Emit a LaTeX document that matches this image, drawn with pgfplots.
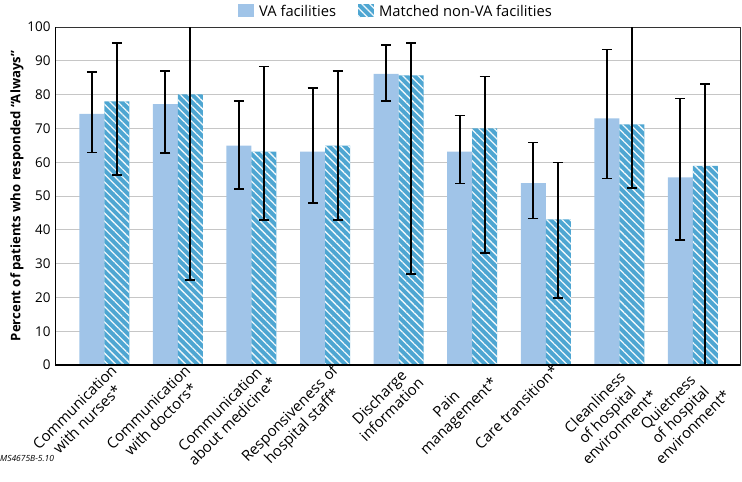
\documentclass[border=0pt]{standalone}
\usepackage{pgfplots}
\pgfplotsset{compat=1.18}
\usepackage{pgfplotstable}
\usepackage{fontspec}
\setmainfont{Open Sans}
\usetikzlibrary{patterns.meta}
\definecolor{vablue}{RGB}{160,196,232}
\definecolor{nvblue}{RGB}{78,166,210}

\pgfplotstableread{
x y ep em
0 74.3 12.4 11.4
1 77.2 9.8 14.4
2 64.9 13.2 12.9
3 63.1 18.8 15.1
4 86.1 8.6 8.0
5 63.1 10.7 9.4
6 53.8 12.0 10.4
7 73.0 20.4 17.8
8 55.5 23.4 18.5
}\vadata
\pgfplotstableread{
x y ep em
0 78.0 17.2 21.8
1 80.1 25.0 55.0
2 63.1 25.2 20.2
3 64.9 22.1 22.0
4 85.7 9.5 58.8
5 70.0 15.3 36.8
6 43.1 16.8 23.2
7 71.2 34.0 18.9
8 58.9 24.2 61.0
}\nvdata

\begin{document}
\begin{tikzpicture}[x=1bp,y=1bp]
\begin{axis}[
  at={(55bp,-365bp)}, anchor=south west,
  scale only axis, width=685bp, height=338bp,
  ybar=0pt, bar width=25bp,
  xmin=-0.67, xmax=8.64,
  ymin=0, ymax=100,
  ytick={0,10,...,100},
  xtick={0,...,8},
  xticklabels={{Communication\\with nurses*},{Communication\\with doctors*},{Communication\\about medicine*},{Responsiveness of\\hospital staff*},{Discharge\\information},{Pain\\management*},{Care transition*},{Cleanliness\\of hospital\\environment*},{Quietness\\of hospital\\environment*}},
  xticklabel style={rotate=45, anchor=north east, align=center, font=\fontsize{15}{17.5}\selectfont, inner sep=1bp, xshift=6bp, yshift=-2bp},
  yticklabel style={font=\fontsize{13.5}{15}\selectfont, xshift=-1bp},
  /pgf/number format/assume math mode=true,
  major tick length=0pt,
  ymajorgrids, grid style={gray!45, line width=0.8bp},
  axis line style={draw=black!80, line width=0.8bp},
  ylabel={\bfseries Percent of patients who responded “Always”},
  ylabel style={font=\fontsize{13.2}{15}\selectfont, yshift=-3bp},
  legend style={at={(0.5,1)}, anchor=south, yshift=9bp, draw=none, fill=none,
    legend columns=2, font=\fontsize{14.8}{16}\selectfont, inner sep=0pt,
    nodes={inner xsep=5bp, inner ysep=0pt},
    /tikz/every even column/.append style={column sep=17bp}},
  legend image code/.code={\path[#1] (0bp,-6bp) rectangle (16bp,7bp);},
  error bars/y dir=both, error bars/y explicit,
  error bars/error bar style={black, line width=2bp},
  error bars/error mark options={rotate=90, black, line width=1.6bp, mark size=5bp},
]
\addplot[fill=vablue, draw=none] table[x=x, y=y, y error plus=ep, y error minus=em] {\vadata};
\addlegendentry{VA facilities}
\addplot[fill=nvblue, draw=none, postaction={pattern={Lines[angle=-45, distance=5.5bp, line width=1.3bp]}, pattern color=white!92!nvblue}] table[x=x, y=y, y error plus=ep, y error minus=em] {\nvdata};
\addlegendentry{Matched non-VA facilities}
\draw[black, line width=2bp] (rel axis cs:0,1) -- (rel axis cs:0,0) -- (rel axis cs:1,0);
\end{axis}
\node[anchor=west, font=\fontsize{8.5}{9}\selectfont\itshape, inner sep=0pt] at (0bp,-458bp) {MS4675B-5.10};
\pgfresetboundingbox
\path[use as bounding box] (0bp,0bp) rectangle (742bp,-482bp);
\end{tikzpicture}
\end{document}
